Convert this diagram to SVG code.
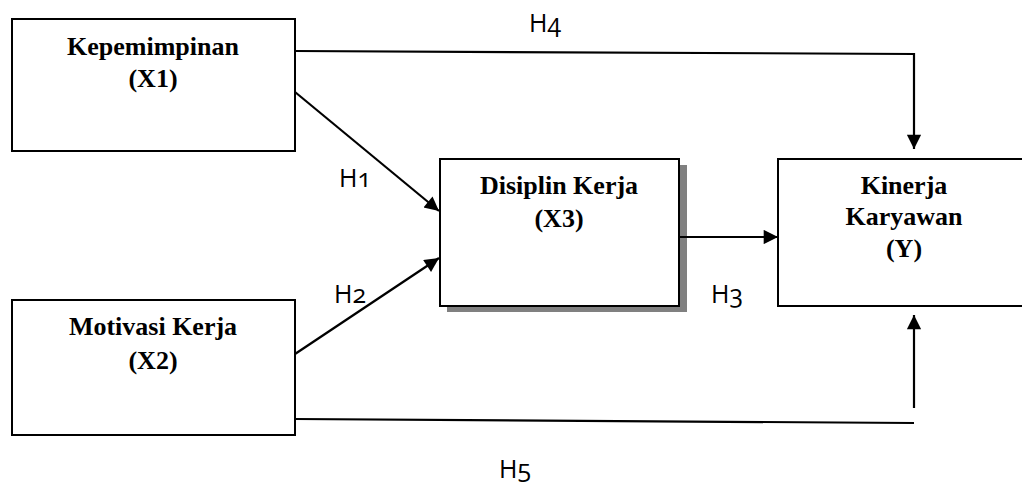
<svg xmlns="http://www.w3.org/2000/svg" width="1022" height="489" viewBox="0 0 1022 489">
  <style>
    .box { fill: #fff; stroke: #000; stroke-width: 2; }
    .shadow { fill: #808080; }
    .title { font-family: "Liberation Serif", "Times New Roman", serif; font-weight: bold; font-size: 26px; fill: #000; text-anchor: middle; }
    .hyp { font-family: "Open Sans", "Noto Sans", sans-serif; font-size: 25px; fill: #000; font-variant-numeric: oldstyle-nums; }
    .link { fill: none; stroke: #000; stroke-width: 2.2; }
  </style>
  <defs>
    <marker id="arrow" viewBox="0 0 10 10" refX="10" refY="5" markerWidth="7" markerHeight="6.5" markerUnits="strokeWidth" orient="auto">
      <path d="M0,0 L10,5 L0,10 z" fill="#000"/>
    </marker>
  </defs>

  <rect width="1022" height="489" fill="#fff"/>

  <g id="x1">
    <rect class="box" x="12" y="19" width="283" height="132"/>
    <text class="title" x="153" y="55">Kepemimpinan</text>
    <text class="title" x="153" y="87">(X1)</text>
  </g>

  <g id="x2">
    <rect class="box" x="12" y="300" width="283" height="135"/>
    <text class="title" x="153" y="335">Motivasi Kerja</text>
    <text class="title" x="153" y="369">(X2)</text>
  </g>

  <g id="x3">
    <rect class="shadow" x="447" y="165" width="240" height="147"/>
    <rect class="box" x="440" y="159" width="239" height="147"/>
    <text class="title" x="559" y="194">Disiplin Kerja</text>
    <text class="title" x="559" y="227">(X3)</text>
  </g>

  <g id="y">
    <rect class="box" x="778" y="159" width="260" height="147"/>
    <text class="title" x="904" y="194">Kinerja</text>
    <text class="title" x="904" y="225">Karyawan</text>
    <text class="title" x="904" y="257">(Y)</text>
  </g>

  <g id="connectors">
    <!-- H1: X1 -> X3 -->
    <line class="link" x1="295" y1="92" x2="439" y2="211" marker-end="url(#arrow)"/>
    <!-- H2: X2 -> X3 -->
    <line class="link" x1="295" y1="354" x2="439" y2="258" marker-end="url(#arrow)"/>
    <!-- H3: X3 -> Y -->
    <line class="link" x1="679" y1="237" x2="778" y2="237" marker-end="url(#arrow)"/>
    <!-- H4: X1 -> Y over the top -->
    <polyline class="link" points="295,51 914,54 914,149" marker-end="url(#arrow)"/>
    <!-- H5: X2 -> Y along the bottom -->
    <line class="link" x1="295" y1="419" x2="914" y2="423"/>
    <line class="link" x1="914" y1="408" x2="914" y2="315" marker-end="url(#arrow)"/>
  </g>

  <g id="labels">
    <text class="hyp" x="339" y="187">H1</text>
    <text class="hyp" x="334" y="303">H2</text>
    <text class="hyp" x="711" y="303">H3</text>
    <text class="hyp" x="529" y="32">H4</text>
    <text class="hyp" x="499" y="478">H5</text>
  </g>
</svg>
